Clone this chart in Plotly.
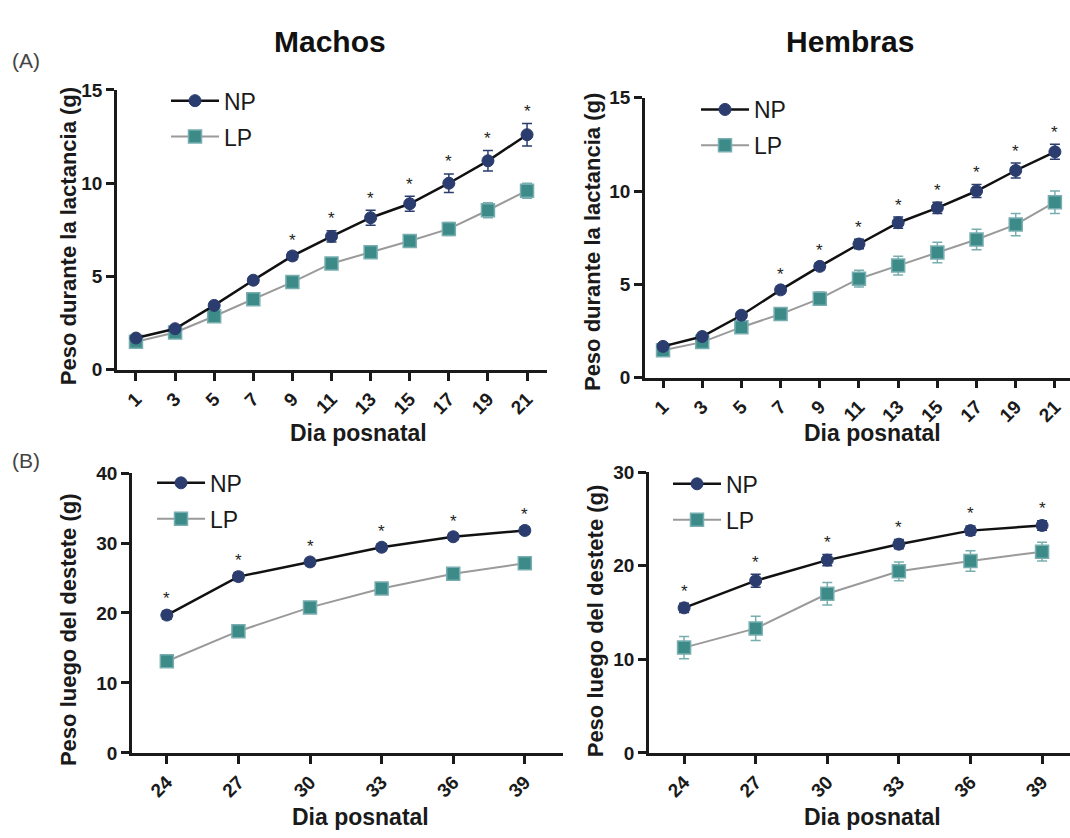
import plotly.graph_objects as go

# ---------------- data ----------------
days_lac = [1, 3, 5, 7, 9, 11, 13, 15, 17, 19, 21]
days_post = [24, 27, 30, 33, 36, 39]

m_lac_np = [1.7, 2.2, 3.45, 4.8, 6.1, 7.15, 8.15, 8.9, 10.0, 11.2, 12.6]
m_lac_np_err = [0.1, 0.1, 0.15, 0.15, 0.2, 0.3, 0.4, 0.4, 0.5, 0.55, 0.6]
m_lac_lp = [1.5, 2.0, 2.87, 3.78, 4.7, 5.7, 6.3, 6.9, 7.55, 8.55, 9.6]
m_lac_lp_err = [0.1, 0.1, 0.2, 0.2, 0.25, 0.3, 0.3, 0.3, 0.35, 0.4, 0.4]
m_lac_sig = [False, False, False, False, True, True, True, True, True, True, True]

f_lac_np = [1.67, 2.2, 3.34, 4.7, 5.96, 7.16, 8.3, 9.1, 10.0, 11.1, 12.1]
f_lac_np_err = [0.1, 0.1, 0.15, 0.2, 0.2, 0.25, 0.3, 0.3, 0.35, 0.4, 0.4]
f_lac_lp = [1.46, 1.9, 2.7, 3.4, 4.23, 5.3, 6.0, 6.7, 7.4, 8.2, 9.4]
f_lac_lp_err = [0.15, 0.15, 0.25, 0.3, 0.35, 0.45, 0.5, 0.55, 0.55, 0.6, 0.6]
f_lac_sig = [False, False, False, True, True, True, True, True, True, True, True]

m_post_np = [19.7, 25.2, 27.3, 29.4, 30.9, 31.8]
m_post_np_err = [0.6, 0.6, 0.5, 0.5, 0.5, 0.5]
m_post_lp = [13.1, 17.4, 20.8, 23.5, 25.6, 27.1]
m_post_lp_err = [0.7, 0.7, 0.6, 0.6, 0.6, 0.6]
m_post_sig = [True, True, True, True, True, True]

f_post_np = [15.5, 18.4, 20.6, 22.3, 23.75, 24.3]
f_post_np_err = [0.5, 0.7, 0.6, 0.5, 0.5, 0.5]
f_post_lp = [11.25, 13.3, 17.0, 19.4, 20.5, 21.5]
f_post_lp_err = [1.2, 1.3, 1.2, 1.0, 1.1, 1.0]
f_post_sig = [True, True, True, True, True, True]

group_names = ["NP", "LP"]
col_titles = ["Machos", "Hembras"]
row_labels = ["(A)", "(B)"]
x_title = "Dia posnatal"
y_title_lac = "Peso durante la lactancia (g)"
y_title_post = "Peso luego del destete (g)"

# ---------------- style ----------------
FONT = "Liberation Sans"
NP_MARK = "#2b3d6e"
NP_LINE = "#111111"
LP_MARK = "#3d8b88"
LP_EDGE = "#78aeb0"
LP_LINE = "#9a9a9a"
AX = "#1a1a1a"
W, H = 1070, 838

fig = go.Figure()

panels = [
    ("", days_lac, m_lac_np, m_lac_np_err, m_lac_lp, m_lac_lp_err, m_lac_sig, "legend"),
    ("2", days_lac, f_lac_np, f_lac_np_err, f_lac_lp, f_lac_lp_err, f_lac_sig, "legend2"),
    ("3", days_post, m_post_np, m_post_np_err, m_post_lp, m_post_lp_err, m_post_sig, "legend3"),
    ("4", days_post, f_post_np, f_post_np_err, f_post_lp, f_post_lp_err, f_post_sig, "legend4"),
]

annotations = []
for ax_id, xs, npv, npe, lpv, lpe, sig, leg in panels:
    xa, ya = "x" + ax_id, "y" + ax_id
    fig.add_trace(go.Scatter(
        x=xs, y=lpv, mode="lines+markers", name=group_names[1],
        xaxis=xa, yaxis=ya, legend=leg, legendrank=2, legendgroup="b",
        line=dict(color=LP_LINE, width=2),
        marker=dict(symbol="square", size=13, color=LP_MARK, line=dict(color=LP_EDGE, width=1.5)),
        error_y=dict(type="data", array=lpe, color=LP_EDGE, thickness=1.5, width=5),
    ))
    fig.add_trace(go.Scatter(
        x=xs, y=npv, mode="lines+markers", name=group_names[0],
        xaxis=xa, yaxis=ya, legend=leg, legendrank=1, legendgroup="a",
        line=dict(color=NP_LINE, width=2.5),
        marker=dict(symbol="circle", size=12, color=NP_MARK, line=dict(color=NP_MARK, width=1)),
        error_y=dict(type="data", array=npe, color=NP_MARK, thickness=1.5, width=5),
    ))
    for xv, yv, ev, s in zip(xs, npv, npe, sig):
        if s:
            annotations.append(dict(
                x=xv, y=yv + ev, xref=xa, yref=ya, text="*", showarrow=False,
                xanchor="center", yanchor="middle", yshift=12,
                font=dict(family=FONT, size=17, color="#222222"),
            ))

def xd(a, b):
    return [a / W, b / W]

def yd(top, bottom):
    return [1 - bottom / H, 1 - top / H]

def px(xp):
    return xp / W

def py(yp):
    return 1 - yp / H

common_x = dict(
    showline=True, linecolor=AX, linewidth=2.5, ticks="outside", ticklen=8,
    tickwidth=2.5, tickcolor=AX, tickangle=-45, showgrid=False, zeroline=False,
    tickfont=dict(family=FONT, size=19, color=AX, weight="bold"),
)
common_y = dict(
    showline=True, linecolor=AX, linewidth=2.5, ticks="outside", ticklen=8,
    tickwidth=2.5, tickcolor=AX, showgrid=False, zeroline=False,
    tickfont=dict(family=FONT, size=19, color=AX, weight="bold"),
)

fig.update_layout(
    xaxis=dict(common_x, domain=xd(117, 547), range=[0.03, 22.02], tickvals=days_lac, anchor="y"),
    yaxis=dict(common_y, domain=yd(82, 369), range=[0, 15], tickvals=[0, 5, 10, 15], anchor="x"),
    xaxis2=dict(common_x, domain=xd(645, 1070), range=[0.08, 21.77], tickvals=days_lac, anchor="y2"),
    yaxis2=dict(common_y, domain=yd(90, 377), range=[0, 15], tickvals=[0, 5, 10, 15], anchor="x2"),
    xaxis3=dict(common_x, domain=xd(132, 563), range=[22.54, 40.6], tickvals=days_post, anchor="y3"),
    yaxis3=dict(common_y, domain=yd(475, 762), range=[0, 40], tickvals=[0, 10, 20, 30, 40], anchor="x3"),
    xaxis4=dict(common_x, domain=xd(649, 1070), range=[22.53, 40.17], tickvals=days_post, anchor="y4"),
    yaxis4=dict(common_y, domain=yd(474, 762), range=[0, 30], tickvals=[0, 10, 20, 30], anchor="x4"),
)

leg_common = dict(
    bgcolor="rgba(0,0,0,0)", borderwidth=0, xanchor="left", yanchor="top",
    font=dict(family=FONT, size=23, color=AX), traceorder="grouped", tracegroupgap=3,
    itemwidth=48,
)
fig.update_layout(
    legend=dict(leg_common, x=px(166), y=py(71)),
    legend2=dict(leg_common, x=px(696), y=py(80)),
    legend3=dict(leg_common, x=px(152), y=py(463)),
    legend4=dict(leg_common, x=px(668), y=py(464)),
)

xt_font = dict(family=FONT, size=23, color=AX, weight="bold")
yt_font = dict(family=FONT, size=22, color=AX, weight="bold")
title_font = dict(family=FONT, size=30, color="#111111", weight="bold")
row_font = dict(family=FONT, size=21, color="#444444")

def txt(x, y, text, font, angle=0, xanchor="center"):
    return dict(x=px(x), y=py(y), xref="paper", yref="paper", text=text, showarrow=False,
                xanchor=xanchor, yanchor="middle", textangle=angle, font=font)

annotations += [
    txt(330, 32, col_titles[0], title_font),
    txt(850, 32, col_titles[1], title_font),
    txt(10, 52, row_labels[0], row_font, xanchor="left"),
    txt(10, 462, row_labels[1], row_font, xanchor="left"),
    # x-axis titles
    txt(358, 434, x_title, xt_font),
    txt(872, 434, x_title, xt_font),
    txt(360, 828, x_title, xt_font),
    txt(872, 828, x_title, xt_font),
    # y-axis titles
    txt(68, 232, y_title_lac, yt_font, angle=-90),
    txt(592, 238, y_title_lac, yt_font, angle=-90),
    txt(68, 636, y_title_post, yt_font, angle=-90),
    txt(595, 627, y_title_post, yt_font, angle=-90),
]

fig.update_layout(
    width=W, height=H, margin=dict(l=0, r=0, t=0, b=0),
    paper_bgcolor="white", plot_bgcolor="white",
    annotations=annotations, showlegend=True,
)

fig.write_html("out.html")
